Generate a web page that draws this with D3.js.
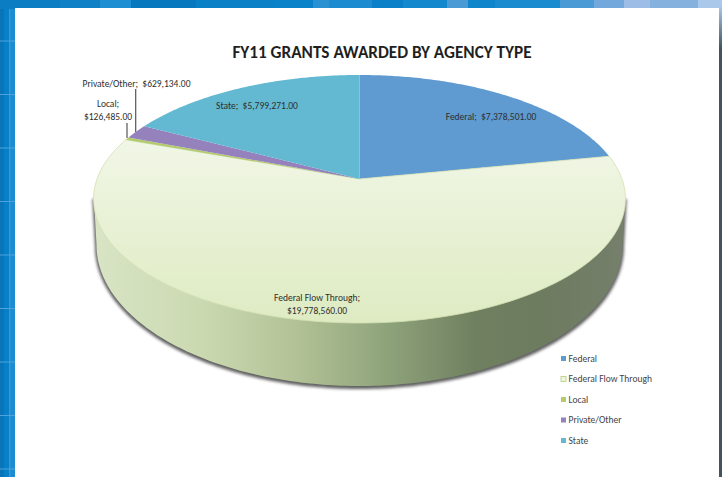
<!DOCTYPE html>
<html>
<head>
<meta charset="utf-8">
<script src="https://cdn.jsdelivr.net/npm/d3@7"></script>
<style>
html, body { margin: 0; padding: 0; background: #0880c8; overflow: hidden; }
svg { display: block; }
text { font-family: Carlito, Lato, "Open Sans", sans-serif; white-space: pre; }
</style>
</head>
<body>
<svg id="chart" width="722" height="477"></svg>
<script>
// values
var categories = ["Federal", "Federal Flow Through", "Local", "Private/Other", "State"];
var amounts = [7378501, 19778560, 126485, 629134, 5799271];
var amountLabels = ["$7,378,501.00", "$19,778,560.00", "$126,485.00", "$629,134.00", "$5,799,271.00"];
var topColors = ["#5f9bd1", "url(#flowTop)", "#b2cb6c", "#9581bc", "#63b9d1"];
var legendColors = ["#5f9bd1", "#eff5e1", "#b2cb6c", "#9581bc", "#63b9d1"];

var width = 722, height = 477;
// the disc is seen in perspective, so the pie centre sits above the middle of the ellipse
var cx = 359.5, cy = 179, R = 262.5, S = 120.8, k = 0.1613;

var svg = d3.select("#chart");
var defs = svg.append("defs");

// blue frame with window-grid strips
var stripColors = ["#0a7dc3", "#0d80c6", "#1e8ed2", "#0878be", "#0a80c6", "#0a82c9", "#2a91d3", "#1c8bcf", "#0a80c8", "#1488cc", "#4a9ad6", "#0f85cb", "#1b8bd0", "#4a9ad6", "#72a8dc", "#9dbde6", "#85b1df", "#a9c8ea"];
var stripStops = [0, 60, 100, 131, 196, 276, 313, 329, 372, 403, 447, 468, 495, 560, 594, 624, 650, 698, 722];
svg.append("rect").attr("width", width).attr("height", height).attr("fill", "#0880c8");
svg.append("rect").attr("x", 0).attr("y", 8).attr("width", 4).attr("height", height).attr("fill", "#0a74b8");
svg.append("rect").attr("x", 10.5).attr("y", 8).attr("width", 4.5).attr("height", height).attr("fill", "#1c8dd2");
svg.append("rect").attr("x", 9).attr("y", 8).attr("width", 1.5).attr("height", height).attr("fill", "#4fa3dc").attr("opacity", 0.7);
svg.selectAll("rect.strip").data(stripColors).enter().append("rect")
  .attr("class", "strip")
  .attr("x", function(d, i) { return stripStops[i]; })
  .attr("y", 0)
  .attr("width", function(d, i) { return stripStops[i + 1] - stripStops[i]; })
  .attr("height", 9)
  .attr("fill", function(d) { return d; });
svg.selectAll("line.grid").data(d3.range(0, 9)).enter().append("line")
  .attr("class", "grid")
  .attr("x1", 0).attr("x2", 15)
  .attr("y1", function(d) { return 41 + d * 53.5; })
  .attr("y2", function(d) { return 41 + d * 53.5; })
  .attr("stroke", "#4fa3dc").attr("stroke-width", 1);

// white page and the dark strip on the right
var sideGrad = defs.append("linearGradient").attr("id", "rightEdge").attr("x1", 0).attr("x2", 0).attr("y1", 0).attr("y2", 1);
sideGrad.append("stop").attr("offset", "0%").attr("stop-color", "#a9c8ea");
sideGrad.append("stop").attr("offset", "9%").attr("stop-color", "#44535c");
sideGrad.append("stop").attr("offset", "100%").attr("stop-color", "#44535c");
svg.append("rect").attr("x", 719).attr("y", 6).attr("width", 3).attr("height", height).attr("fill", "url(#rightEdge)");
svg.append("rect").attr("x", 15).attr("y", 8).attr("width", 704).attr("height", height).attr("fill", "#ffffff");

svg.append("text").attr("x", 382).attr("y", 58).attr("text-anchor", "middle")
  .attr("font-size", 17.2).attr("font-weight", "bold").attr("fill", "#1f1f1f")
  .text("FY11 GRANTS AWARDED BY AGENCY TYPE");

// pie angles, starting at 12 o'clock going clockwise
var pie = d3.pie().sort(null).value(function(d) { return d; });
var arcs = pie(amounts);

// angle on the circle to a point on the rim of the top face
function pt(a) {
  var w = 1 + k * Math.cos(a);
  return [cx + R * Math.sin(a) / w, cy - S * Math.cos(a) / w];
}
function topPath(s) {
  var p = d3.path();
  p.moveTo(cx, cy);
  d3.range(0, 121).forEach(function(i) {
    var q = pt(s.startAngle + (s.endAngle - s.startAngle) * i / 120);
    p.lineTo(q[0], q[1]);
  });
  p.closePath();
  return p.toString();
}
// wall: from the widest points of the top face down round the lower rim
function wallPath() {
  var p = d3.path();
  p.moveTo(625, 199);
  d3.range(0, 181).forEach(function(deg) {
    var t = deg * Math.PI / 180;
    p.lineTo(cx + 263 * Math.cos(t), 245 + 141 * Math.sin(t));
  });
  p.lineTo(94, 199);
  p.closePath();
  return p.toString();
}

var wall = defs.append("linearGradient").attr("id", "wall").attr("gradientUnits", "userSpaceOnUse")
  .attr("x1", 96).attr("x2", 623).attr("y1", 0).attr("y2", 0);
[[0, "#d8e4c4"], [0.2, "#cbd9b1"], [0.38, "#b2c296"], [0.55, "#8fa37b"], [0.72, "#6f8060"], [0.85, "#6d7b5f"], [1, "#757f6b"]].forEach(function(d) {
  wall.append("stop").attr("offset", d[0]).attr("stop-color", d[1]);
});
var flowTop = defs.append("linearGradient").attr("id", "flowTop").attr("gradientUnits", "userSpaceOnUse")
  .attr("x1", 0).attr("x2", 0).attr("y1", 130).attr("y2", 323);
flowTop.append("stop").attr("offset", "0%").attr("stop-color", "#f2f7e8");
flowTop.append("stop").attr("offset", "100%").attr("stop-color", "#deebc2");

var blur = defs.append("filter").attr("id", "shadow").attr("x", "-10%").attr("y", "-10%").attr("width", "120%").attr("height", "120%");
blur.append("feGaussianBlur").attr("stdDeviation", 1.8);

svg.append("path").attr("d", wallPath())
  .attr("transform", "translate(0,1.5)").attr("fill", "#444").attr("stroke", "#444").attr("stroke-width", 3)
  .attr("opacity", 0.85).attr("filter", "url(#shadow)");
svg.append("path").attr("d", wallPath()).attr("fill", "url(#wall)");

// slice tops
svg.selectAll("path.slice").data(arcs).enter().append("path")
  .attr("class", "slice")
  .attr("d", topPath)
  .attr("fill", function(d, i) { return topColors[i]; })
  .attr("stroke", function(d, i) { return i === 1 ? "#d3e0b4" : "none"; })
  .attr("stroke-width", 0.8);

// data labels
var labelX = [491, 317, 108, 136.5, 257];
var labelY = [120, 301, 107, 87, 109];
function addLabel(i, lines) {
  var t = svg.append("text").attr("text-anchor", "middle").attr("font-size", 9.5).attr("fill", "#2e2e2e");
  lines.forEach(function(s, n) {
    t.append("tspan").attr("x", labelX[i]).attr("y", labelY[i] + n * 12.5).text(s);
  });
}
addLabel(0, [categories[0] + ";  " + amountLabels[0]]);
addLabel(1, [categories[1] + ";", amountLabels[1]]);
addLabel(2, [categories[2] + ";", amountLabels[2]]);
addLabel(3, [categories[3] + ";  " + amountLabels[3]]);
addLabel(4, [categories[4] + ";  " + amountLabels[4]]);

// leader lines for the two small slices
var leaders = [[127, 123, 138], [135.7, 89, 132]];
svg.selectAll("line.leader").data(leaders).enter().append("line")
  .attr("class", "leader")
  .attr("x1", function(d) { return d[0]; }).attr("x2", function(d) { return d[0]; })
  .attr("y1", function(d) { return d[1]; }).attr("y2", function(d) { return d[2]; })
  .attr("stroke", "#555").attr("stroke-width", 1.2);

// legend
var legendY = d3.scaleLinear().domain([0, 4]).range([358.5, 440.5]);
var legend = svg.selectAll("g.legend").data(categories).enter().append("g")
  .attr("class", "legend")
  .attr("transform", function(d, i) { return "translate(561," + legendY(i) + ")"; });
legend.append("rect").attr("x", 0).attr("y", -2.5).attr("width", 5).attr("height", 5)
  .attr("fill", function(d, i) { return legendColors[i]; })
  .attr("stroke", function(d, i) { return i === 1 ? "#b5cc7f" : "none"; })
  .attr("stroke-width", 0.8);
legend.append("text").attr("x", 7.5).attr("y", 3.3).attr("font-size", 9.5).attr("fill", "#444")
  .text(function(d) { return d; });
</script>
</body>
</html>
